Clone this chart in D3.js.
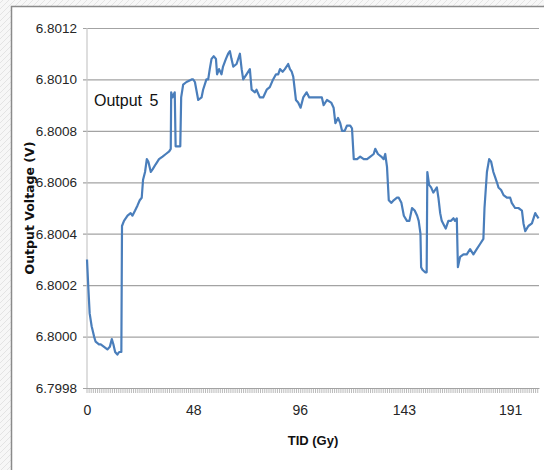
<!DOCTYPE html>
<html>
<head>
<meta charset="utf-8">
<script src="https://cdn.jsdelivr.net/npm/d3@7"></script>
<style>
  html, body { margin: 0; padding: 0; background: #ffffff; }
  svg { display: block; }
</style>
</head>
<body>
<svg id="chart" width="544" height="470"></svg>
<script>
// Total ionising dose (Gy) at each sample
const doseGy = [
  0.0, 0.6, 1.2, 2.1, 3.2, 3.9, 5.4, 6.2, 7.7, 9.2, 10.3, 11.2, 11.9, 12.7, 13.7, 14.5, 15.2,
  15.5, 15.8, 16.7, 18.3, 19.7, 20.5, 21.7, 22.8, 23.8, 24.7, 25.3, 26.2, 27.0, 27.7, 28.8, 29.6,
  31.0, 32.5, 34.1, 35.6, 37.1, 37.8, 38.0, 38.6, 39.6, 40.0, 41.0, 42.1, 42.5, 43.4, 44.9, 47.2,
  47.9, 48.7, 50.2, 51.7, 52.4, 53.9, 54.7, 55.4, 56.2, 57.2, 58.2, 58.7, 59.6, 60.7, 61.4, 62.7,
  63.7, 64.5, 65.2, 66.0, 67.5, 69.0, 69.8, 70.5, 72.0, 73.5, 74.3, 75.8, 76.5, 78.0, 79.5, 81.1,
  82.5, 84.0, 85.3, 86.3, 87.1, 88.3, 89.3, 90.8, 91.6, 92.4, 93.1, 94.3, 95.3, 96.4, 97.6, 99.1,
  100.3, 102.3, 104.6, 106.0, 106.8, 108.3, 110.2, 111.3, 112.1, 113.3, 114.3, 115.1, 116.3, 117.3,
  118.8, 119.6, 120.4, 121.9, 123.3, 124.9, 126.4, 127.9, 129.4, 130.1, 131.3, 132.8, 133.9, 134.6,
  135.4, 136.2, 137.4, 138.4, 139.9, 140.7, 141.9, 143.0, 144.4, 145.5, 146.7, 147.9, 149.0, 149.7,
  150.5, 150.8, 151.4, 152.6, 153.3, 153.6, 154.4, 155.3, 156.3, 157.1, 157.9, 158.6, 159.4, 160.1,
  161.3, 161.9, 163.1, 164.3, 165.4, 166.1, 166.9, 167.4, 168.4, 169.9, 171.4, 172.9, 174.4, 175.9,
  177.4, 178.9, 179.4, 180.5, 181.5, 182.4, 183.4, 184.2, 185.0, 185.7, 186.9, 188.0, 189.5, 191.0,
  191.7, 193.2, 194.7, 196.3, 197.0, 197.8, 199.2, 200.8, 202.3, 203.0, 203.8
];

// Output 5 voltage (V) at each sample
const outputV = [
  6.80030, 6.80019, 6.80009, 6.80004, 6.80000, 6.79998, 6.79997, 6.79997, 6.79996, 6.79995, 6.79996, 6.79999, 6.79997, 6.79994, 6.79993, 6.79994, 6.79994,
  6.79994, 6.80043, 6.80045, 6.80047, 6.80048, 6.80047, 6.80049, 6.80051, 6.80053, 6.80054, 6.80061, 6.80064, 6.80069, 6.80068, 6.80064, 6.80065,
  6.80067, 6.80069, 6.80070, 6.80071, 6.80072, 6.80073, 6.80095, 6.80093, 6.80095, 6.80074, 6.80074, 6.80074, 6.80093, 6.80098, 6.80099, 6.80100,
  6.80100, 6.80099, 6.80092, 6.80093, 6.80096, 6.80100, 6.80100, 6.80104, 6.80108, 6.80109, 6.80108, 6.80102, 6.80104, 6.80102, 6.80105, 6.80108,
  6.80110, 6.80111, 6.80108, 6.80105, 6.80106, 6.80110, 6.80104, 6.80100, 6.80102, 6.80104, 6.80096, 6.80095, 6.80096, 6.80093, 6.80093, 6.80096,
  6.80097, 6.80100, 6.80102, 6.80102, 6.80104, 6.80103, 6.80104, 6.80106, 6.80104, 6.80103, 6.80101, 6.80092, 6.80091, 6.80089, 6.80093, 6.80095,
  6.80093, 6.80093, 6.80093, 6.80093, 6.80090, 6.80092, 6.80091, 6.80089, 6.80083, 6.80085, 6.80083, 6.80080, 6.80080, 6.80082,
  6.80082, 6.80081, 6.80069, 6.80069, 6.80070, 6.80069, 6.80069, 6.80070, 6.80071, 6.80073, 6.80071, 6.80070, 6.80069, 6.80071,
  6.80066, 6.80053, 6.80052, 6.80053, 6.80054, 6.80054, 6.80052, 6.80047, 6.80045, 6.80045, 6.80050, 6.80049, 6.80047, 6.80045,
  6.80040, 6.80027, 6.80026, 6.80025, 6.80025, 6.80064, 6.80059, 6.80058, 6.80056, 6.80057, 6.80058, 6.80054, 6.80048, 6.80045,
  6.80043, 6.80042, 6.80045, 6.80045, 6.80046, 6.80045, 6.80046, 6.80027, 6.80031, 6.80032, 6.80032, 6.80034, 6.80032, 6.80034,
  6.80036, 6.80038, 6.80050, 6.80064, 6.80069, 6.80068, 6.80064, 6.80062, 6.80060, 6.80058, 6.80057, 6.80055, 6.80054, 6.80054,
  6.80052, 6.80050, 6.80050, 6.80049, 6.80044, 6.80041, 6.80043, 6.80044, 6.80048, 6.80047, 6.80046
];

const yTicks = [6.7998, 6.8000, 6.8002, 6.8004, 6.8006, 6.8008, 6.8010, 6.8012];
const xTicks = [0, 48, 96, 143, 191];
const xTickLabels = ["0", "48", "96", "143", "191"];

const svg = d3.select("#chart");
const W = 544, H = 470;
const plot = { left: 87, right: 539, top: 28, bottom: 388 };

// hatched page background outside the chart frame
const defs = svg.append("defs");
const pat = defs.append("pattern")
  .attr("id", "hatch").attr("width", 6).attr("height", 6)
  .attr("patternUnits", "userSpaceOnUse");
pat.append("rect").attr("width", 6).attr("height", 6).attr("fill", "#f7f7f7");
pat.append("path").attr("d", "M0,3 L3,0 M3,6 L6,3").attr("stroke", "#e4e4e4").attr("stroke-width", 1);
svg.append("rect").attr("width", W).attr("height", H).attr("fill", "url(#hatch)");
svg.append("rect").attr("x", 11).attr("y", 6).attr("width", W - 11).attr("height", H - 6).attr("fill", "#ffffff");
svg.append("path").attr("d", `M11.5,${H} L11.5,6.5 L${W},6.5`)
  .attr("fill", "none").attr("stroke", "#8a8a8a").attr("stroke-width", 1.5);

const x = d3.scaleLinear().domain([0, 204]).range([plot.left, plot.right]);
const y = d3.scaleLinear().domain([6.7998, 6.8012]).range([plot.bottom, plot.top]);

const labelFont = "'Liberation Sans Narrow', 'Arial Narrow', 'Liberation Sans', sans-serif";

// horizontal gridlines with small outward ticks
const yAxis = d3.axisLeft(y).tickValues(yTicks)
  .tickSize(-(plot.right - plot.left) - 4).tickSizeOuter(0)
  .tickFormat(d3.format(".4f")).tickPadding(6);
const gy = svg.append("g").attr("transform", `translate(${plot.left - 4},0)`).call(yAxis);
gy.select(".domain").remove();
gy.selectAll(".tick line").attr("stroke", "#a3a3a3").attr("stroke-width", 1.2);
gy.selectAll(".tick text").attr("font-family", labelFont).attr("font-size", 13.5).attr("fill", "#262626");

// vertical axis line
svg.append("line")
  .attr("x1", plot.left).attr("x2", plot.left)
  .attr("y1", plot.top).attr("y2", plot.bottom)
  .attr("stroke", "#c8c8c8").attr("stroke-width", 1.2);

// category ticks along the dose axis
const minorTicks = d3.range(0, 204, 0.955);
svg.append("g").selectAll("line").data(minorTicks).join("line")
  .attr("x1", d => x(d)).attr("x2", d => x(d))
  .attr("y1", plot.bottom).attr("y2", plot.bottom + 5)
  .attr("stroke", "#a8a8a8").attr("stroke-width", 0.8);

const xAxis = d3.axisBottom(x).tickValues(xTicks)
  .tickFormat((d, i) => xTickLabels[i]).tickSize(0).tickPadding(17);
const gx = svg.append("g").attr("transform", `translate(0,${plot.bottom})`).call(xAxis);
gx.select(".domain").attr("stroke", "#a3a3a3").attr("stroke-width", 1.2);
gx.selectAll(".tick text").attr("font-family", labelFont).attr("font-size", 14).attr("fill", "#262626");

// voltage trace
const pts = doseGy.map((d, i) => [d, outputV[i]]);
const line = d3.line().x(d => x(d[0])).y(d => y(d[1]));
svg.append("path").datum(pts)
  .attr("d", line)
  .attr("fill", "none")
  .attr("stroke", "#4a7ebb")
  .attr("stroke-width", 2.2)
  .attr("stroke-linejoin", "round");

// series label inside the plot
svg.append("text")
  .attr("x", 94).attr("y", 106)
  .attr("font-family", labelFont).attr("font-size", 16).attr("fill", "#111")
  .attr("word-spacing", 3)
  .text("Output 5");

// axis titles
svg.append("text")
  .attr("transform", "translate(34,208) rotate(-90)")
  .attr("text-anchor", "middle")
  .attr("font-family", "'DejaVu Sans', Verdana, sans-serif")
  .attr("font-weight", "bold").attr("font-size", 12.5).attr("fill", "#111")
  .text("Output Voltage (V)");

svg.append("text")
  .attr("x", 313).attr("y", 445)
  .attr("text-anchor", "middle")
  .attr("font-family", labelFont)
  .attr("font-weight", "bold").attr("font-size", 13).attr("fill", "#111")
  .text("TID (Gy)");
</script>
</body>
</html>
